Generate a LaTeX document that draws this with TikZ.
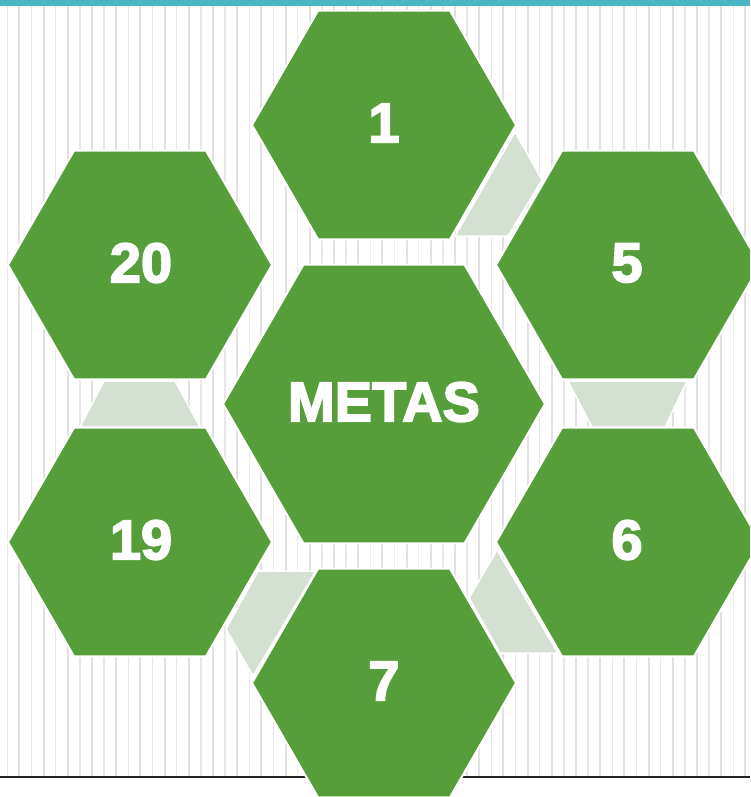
\documentclass[tikz,border=0pt]{standalone}
\usepackage{fontspec}
\setmainfont{Liberation Sans}
\newfontfamily\heavyfont{Liberation Sans}[BoldFeatures={FakeBold=3}]
\definecolor{hexgreen}{HTML}{559E3A}
\definecolor{conngray}{HTML}{D3E0D2}
\definecolor{stripeA}{HTML}{E1E1E1}
\definecolor{stripeB}{HTML}{E8E8E8}
\definecolor{topbar}{HTML}{4BB5C6}
\newcommand\hexagonat[3]{%
  \path[hexa] ({#1-#3},#2) -- ({#1-#3/2},{#2-0.866*#3}) -- ({#1+#3/2},{#2-0.866*#3})
    -- ({#1+#3},#2) -- ({#1+#3/2},{#2+0.866*#3}) -- ({#1-#3/2},{#2+0.866*#3}) -- cycle;}
\begin{document}
\begin{tikzpicture}[x=1pt,y=-1pt,
  hexa/.style={fill=hexgreen,draw=white,line width=2pt,line join=miter},
  conn/.style={fill=conngray,draw=white,line width=1.5pt,line join=miter},
  lbl/.style={text=white,font=\heavyfont\bfseries\fontsize{56}{56}\selectfont,inner sep=0pt}]
\useasboundingbox (0,0) rectangle (750,797);
\clip (0,0) rectangle (750,797);
\fill[white] (0,0) rectangle (750,797);
% striped background
\foreach \k in {0,...,30} {
  \draw[stripeB, line width=1.3pt] ({7.3+24.2*\k},6) -- ({7.3+24.2*\k},776);
  \draw[stripeA, line width=1.9pt] ({19.4+24.2*\k},6) -- ({19.4+24.2*\k},776);
}
\fill[topbar] (0,0) rectangle (750,6);
\draw[black!85, line width=1.5pt] (0,777) -- (750,777);
% connectors
\path[conn] (515,132) -- (542,180) -- (508,236) -- (455,236) -- cycle;
\path[conn] (568,381) -- (687,381) -- (665,427) -- (592,427) -- cycle;
\path[conn] (497,550) -- (469,598) -- (500,653) -- (558,653) -- cycle;
\path[conn] (258,571) -- (316,571) -- (253,676) -- (226,629) -- cycle;
\path[conn] (104,381) -- (175,381) -- (200,427) -- (80,427) -- cycle;
% hexagons
\hexagonat{384}{125}{132}
\hexagonat{140}{265}{132}
\hexagonat{628}{265}{132}
\hexagonat{384}{404}{161}
\hexagonat{140}{542}{132}
\hexagonat{628}{542}{132}
\hexagonat{384}{683}{132}
% labels
\node[lbl] (t1) at (384,123) {1};
\node[lbl] (t20) at (141,263) {20};
\node[lbl] (t5) at (627,263) {5};
\node[lbl] (tc) at (384,402) {METAS};
\node[lbl] (t19) at (141,540) {19};
\node[lbl] (t6) at (627,540) {6};
\node[lbl] (t7) at (384,681) {7};
\end{tikzpicture}
\end{document}
